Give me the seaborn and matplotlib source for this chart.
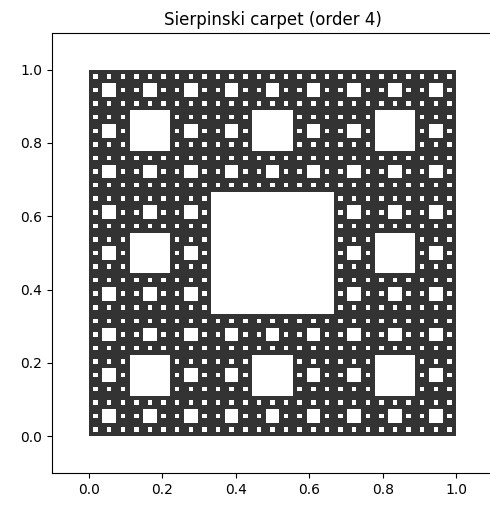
import numpy as np
import pandas as pd
import seaborn as sns
import matplotlib.pyplot as plt
from matplotlib.colors import ListedColormap

# chart settings
order = 4
carpet_color = '#333333'
tick_values = [0.0, 0.2, 0.4, 0.6, 0.8, 1.0]
title = f"Sierpinski carpet (order {order})"

# build the carpet grid: a cell is a hole if at any level both base-3 digits are 1
n = 3 ** order
idx = np.arange(n)
filled = np.ones((n, n), dtype=int)
for k in range(order):
    d = (idx // 3 ** k) % 3
    hole = np.outer(d == 1, d == 1)
    filled[hole] = 0
grid = pd.DataFrame(filled)

fig = plt.figure(figsize=(4.9, 5.07), dpi=100)
ax = fig.add_axes([52 / 490, 34 / 507, 441 / 490, 440 / 507])

sns.heatmap(grid, ax=ax, cmap=ListedColormap(['white', carpet_color]),
            vmin=0, vmax=1, cbar=False, xticklabels=False, yticklabels=False)

# restore a plain matplotlib look (right edge falls outside the image in the reference)
for name, s in ax.spines.items():
    s.set_visible(name != 'right')
    s.set_color('black')
    s.set_linewidth(0.8)
ax.set_aspect('auto')
ax.set_xlim(-0.1 * n, 1.1 * n)
ax.set_ylim(-0.1 * n, 1.1 * n)
ax.set_xticks([v * n for v in tick_values])
ax.set_xticklabels([f"{v:.1f}" for v in tick_values])
ax.set_yticks([v * n for v in tick_values])
ax.set_yticklabels([f"{v:.1f}" for v in tick_values], rotation=0)
ax.tick_params(length=3.5, width=0.8, labelsize=10, colors='black')
ax.set_title(title, fontsize=12)

fig.savefig('out.png', dpi=100)
